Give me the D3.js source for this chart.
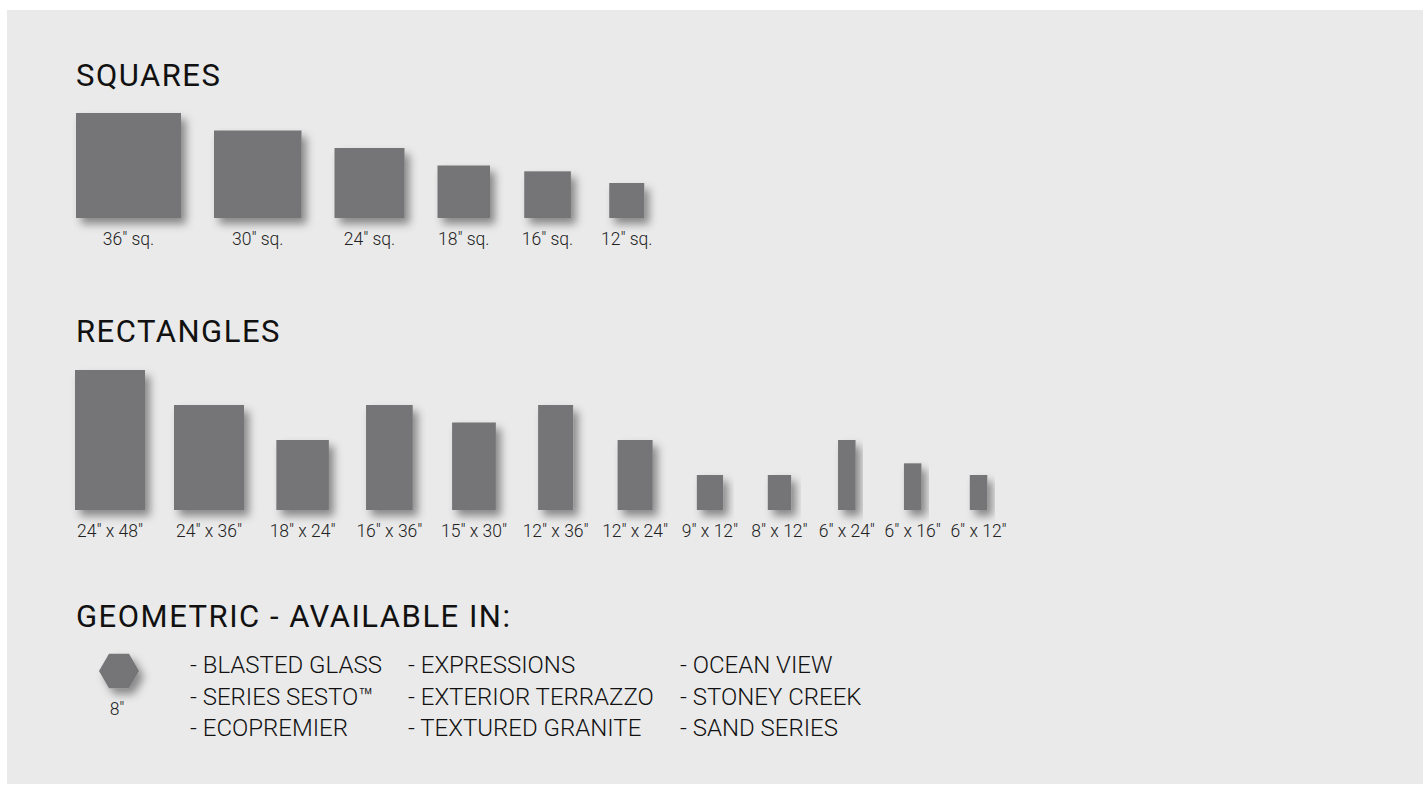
<!DOCTYPE html>
<html><head><meta charset="utf-8">
<script src="https://cdn.jsdelivr.net/npm/d3@7"></script>
<style>
html,body{margin:0;padding:0;background:#fff;}
svg{display:block;}
</style></head><body>
<svg id="chart" width="1426" height="785"></svg>
<script>
// ---- DATA ----
const sectionTitles = ['SQUARES', 'RECTANGLES', 'GEOMETRIC - AVAILABLE IN:'];
const squareSizes = [36, 30, 24, 18, 16, 12];
const squareLabels = ['36″ sq.', '30″ sq.', '24″ sq.', '18″ sq.', '16″ sq.', '12″ sq.'];
const rectWidths  = [24, 24, 18, 16, 15, 12, 12, 9, 8, 6, 6, 6];
const rectHeights = [48, 36, 24, 36, 30, 36, 24, 12, 12, 24, 16, 12];
const rectLabels = ['24″ x 48″', '24″ x 36″', '18″ x 24″', '16″ x 36″', '15″ x 30″', '12″ x 36″',
                    '12″ x 24″', '9″ x 12″', '8″ x 12″', '6″ x 24″', '6″ x 16″', '6″ x 12″'];
const geoLabels = ['8″'];
const geoCol1 = ['- BLASTED GLASS', '- SERIES SESTO™', '- ECOPREMIER'];
const geoCol2 = ['- EXPRESSIONS', '- EXTERIOR TERRAZZO', '- TEXTURED GRANITE'];
const geoCol3 = ['- OCEAN VIEW', '- STONEY CREEK', '- SAND SERIES'];

// ---- RENDER ----
const svg = d3.select('#chart');
const tileColor = '#757577';
const labelFont = 'Roboto, sans-serif';
const labelSize = 17.5;

const defs = svg.append('defs');
const f = defs.append('filter').attr('id', 'shadow')
  .attr('x', '-30%').attr('y', '-30%').attr('width', '170%').attr('height', '170%');
f.append('feDropShadow').attr('dx', 5).attr('dy', 6).attr('stdDeviation', 4)
  .attr('flood-color', '#000').attr('flood-opacity', 0.42);

svg.append('rect').attr('x', 7).attr('y', 10).attr('width', 1416).attr('height', 774).attr('fill', '#eaeaea');

// inches -> pixels
const s = d3.scaleLinear().domain([0, 48]).range([0, 140]);

// headers
const headerY = [86, 342, 627];
svg.selectAll('text.hdr').data(sectionTitles).join('text').attr('class', 'hdr')
  .attr('x', 76).attr('y', (d, i) => headerY[i])
  .attr('font-family', labelFont).attr('font-size', 31).attr('letter-spacing', 1.5)
  .attr('fill', '#111').text(d => d);

function layoutRow(items, startX, gap) {
  const tmp = svg.append('g');
  items.forEach(it => {
    const t = tmp.append('text').attr('font-family', labelFont).attr('font-size', labelSize)
      .attr('font-weight', 300).text(it.label);
    it.lw = t.node().getComputedTextLength();
  });
  tmp.remove();
  items.forEach(it => { it.w = (it.tw + Math.max(it.tw, it.lw)) / 2; });
  let c = startX + Math.max(items[0].tw, items[0].lw) / 2;
  items.forEach((it, i) => {
    if (i > 0) c += (items[i - 1].w + it.w) / 2 + gap;
    it.cx = c;
  });
  return items;
}

function drawRow(items, baseY, cls) {
  const g = svg.append('g').attr('class', cls);
  g.selectAll('rect').data(items).join('rect')
    .attr('x', d => d.cx - d.tw / 2).attr('y', d => baseY - d.th)
    .attr('width', d => d.tw).attr('height', d => d.th)
    .attr('fill', tileColor).attr('filter', 'url(#shadow)');
  g.selectAll('text').data(items).join('text')
    .attr('x', d => d.cx).attr('y', baseY + 27).attr('text-anchor', 'middle')
    .attr('font-family', labelFont).attr('font-size', labelSize).attr('font-weight', 300)
    .attr('fill', '#222').text(d => d.label);
}

const sqItems = layoutRow(squareSizes.map((v, i) => ({ tw: s(v), th: s(v), label: squareLabels[i] })), 76, 33);
drawRow(sqItems, 218, 'squares');

const rcItems = layoutRow(rectWidths.map((v, i) => ({ tw: s(v), th: s(rectHeights[i]), label: rectLabels[i] })), 75, 29);
drawRow(rcItems, 510, 'rects');

// hexagon
const hexR = 20, hexC = [119, 671];
const hexPts = d3.range(6).map(k => [hexC[0] + hexR * Math.cos(k * Math.PI / 3), hexC[1] + hexR * Math.sin(k * Math.PI / 3)]);
svg.append('path').attr('d', d3.line()(hexPts) + 'Z').attr('fill', tileColor).attr('filter', 'url(#shadow)');
svg.selectAll('text.geo').data(geoLabels).join('text').attr('class', 'geo')
  .attr('x', 117).attr('y', 715).attr('text-anchor', 'middle')
  .attr('font-family', labelFont).attr('font-size', labelSize).attr('font-weight', 300)
  .attr('fill', '#222').text(d => d);

// series list
const cols = [geoCol1, geoCol2, geoCol3];
const colX = [190, 408, 680];
cols.forEach((col, ci) => {
  svg.append('g').selectAll('text').data(col).join('text')
    .attr('x', colX[ci]).attr('y', (d, i) => 673 + i * 31.7)
    .attr('font-family', labelFont).attr('font-size', 24).attr('font-weight', 300)
    .attr('fill', '#111').text(d => d);
});
</script>
</body></html>
